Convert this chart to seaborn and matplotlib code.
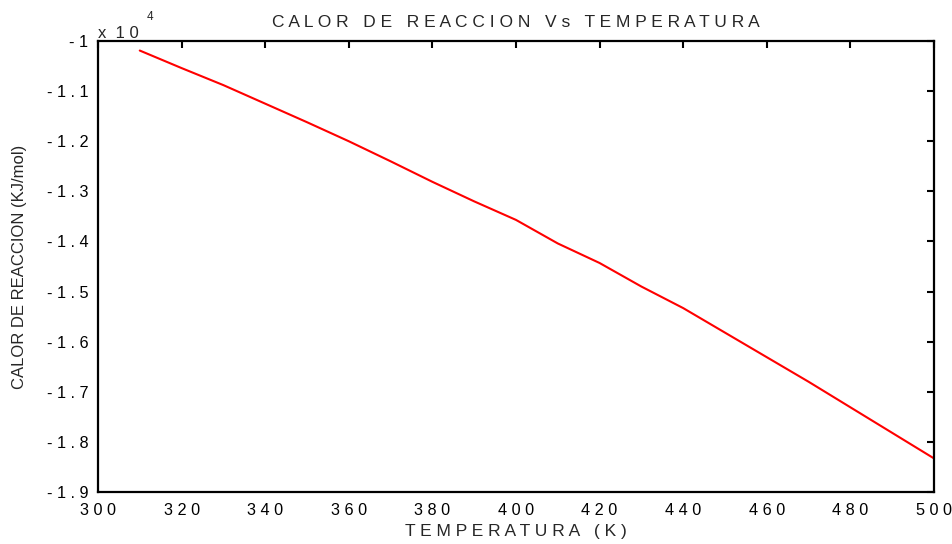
import numpy as np
import pandas as pd
import matplotlib.pyplot as plt
import seaborn as sns

# temperatura (K) y calor de reaccion (KJ/mol)
temperatura = [310, 320, 330, 340, 350, 360, 370, 380, 390, 400,
               410, 420, 430, 440, 450, 460, 470, 480, 490, 500]
calor = [-10190, -10540, -10880, -11250, -11620, -12000, -12400, -12810,
         -13200, -13570, -14040, -14430, -14900, -15330, -15820, -16310,
         -16800, -17310, -17820, -18330]

x_ticks = [300, 320, 340, 360, 380, 400, 420, 440, 460, 480, 500]
y_ticks = [-1, -1.1, -1.2, -1.3, -1.4, -1.5, -1.6, -1.7, -1.8, -1.9]


def spaced(s):
    # texto con letras separadas, como en la figura original
    return ' '.join(s)


sns.set_style('white')
plt.rcParams['font.family'] = ['Liberation Sans', 'DejaVu Sans']

df = pd.DataFrame({'T': temperatura, 'Q': np.array(calor) / 1e4})

fig = plt.figure(figsize=(9.52, 5.44), dpi=100)
ax = fig.add_axes([0.1029, 0.0956, 0.8782, 0.829])

sns.lineplot(data=df, x='T', y='Q', color='red', linewidth=1.5, ax=ax)

ax.set_xlim(300, 500)
ax.set_ylim(-1.9, -1)
ax.set_xticks(x_ticks)
ax.set_xticklabels([spaced(str(t)) for t in x_ticks])
ax.set_yticks(y_ticks)
ax.set_yticklabels([spaced('%g' % v) for v in y_ticks])

ax.tick_params(direction='in', length=5, width=1.5, top=True, right=True,
               labelsize=11.7, colors='black')
ax.tick_params(axis='x', pad=8)
ax.tick_params(axis='y', pad=7)
for sp in ax.spines.values():
    sp.set_linewidth(1.6)
    sp.set_color('black')

ax.set_title('C A L O R   D E   R E A C C I O N   V s   T E M P E R A T U R A',
             fontsize=12.5, pad=10)
ax.set_xlabel(spaced('TEMPERATURA') + '   ' + spaced('(K)'), fontsize=12.5, labelpad=4)
ax.set_ylabel('CALOR DE REACCION (KJ/mol)', fontsize=12, labelpad=14)

ax.text(0.0, 0.999, 'x  1 0', transform=ax.transAxes, fontsize=12,
        ha='left', va='bottom')
ax.text(0.058, 1.04, '4', transform=ax.transAxes, fontsize=8.5,
        ha='left', va='bottom')

fig.savefig('out.png', dpi=100)
